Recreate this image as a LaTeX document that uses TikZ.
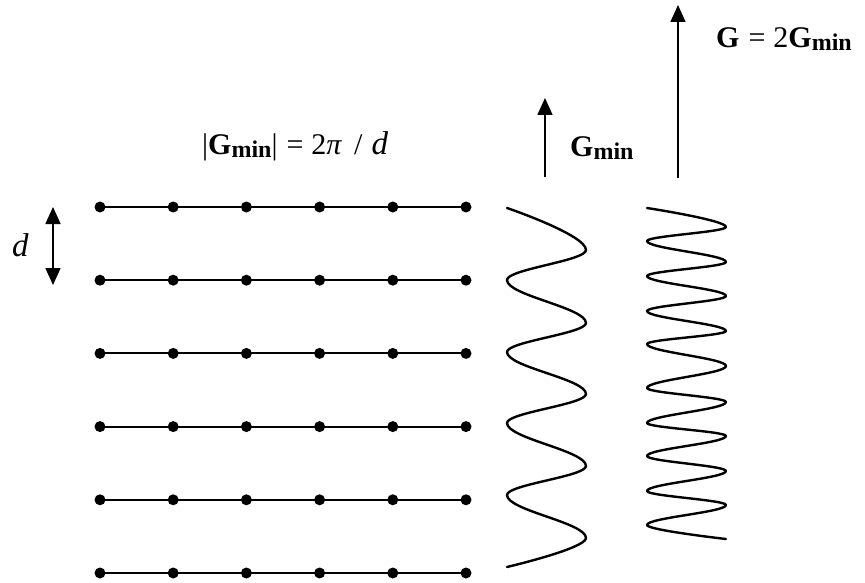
\documentclass[tikz,border=0pt]{standalone}
\usepackage{fontspec}
\setmainfont{Liberation Serif}
\usetikzlibrary{arrows.meta}

% bold G with the lowered "min" subscript
\newcommand{\Gmin}{\textbf{G}\raisebox{-3pt}{\fontsize{24}{24}\selectfont\textbf{min}}}
% one half-wave of a vertical wave: from one turning point (x1,y1) to the next (x2,y2)
\newcommand{\halfwave}[4]{.. controls (#1,{#2+0.36*(#4-#2)}) and (#3,{#4-0.36*(#4-#2)}) .. (#3,#4)}

\begin{document}
\begin{tikzpicture}[x=1pt,y=-1pt,
  dot/.style={circle,fill=black,inner sep=0pt,minimum size=11pt},
  rod/.style={line width=2pt},
  wave/.style={line width=2.4pt,line join=round,line cap=round},
  vec/.style={line width=1.6pt,-{Triangle[length=17pt,width=15pt]}},
  dvec/.style={line width=1.6pt,{Triangle[length=17pt,width=15pt]}-{Triangle[length=17pt,width=15pt]}},
  lbl/.style={inner sep=0pt,font=\fontsize{30}{30}\selectfont}]
\useasboundingbox (0,0) rectangle (865,583);

% lattice planes: rows of atoms joined by lines
\foreach \i in {0,...,5}{
  \foreach \j in {0,...,5}{
    \node[dot] (p\i\j) at ({100+73.2*\j},{207+73.2*\i}) {};
  }
  \draw[rod] (p\i0.center) -- (p\i5.center);
}

% plane spacing d
\coordinate (dtop) at (53,207);
\coordinate (dbot) at (53,285);
\draw[dvec] (dtop) -- (dbot);
\node[lbl,anchor=base west,font=\fontsize{33}{33}\selectfont] (dlbl) at (12,256) {\textit{d}};

% wave with the period d
\draw[wave] (507,208) .. controls (507,208) and (586,{250-0.36*42}) .. (586,250)
  \halfwave{586}{250}{507}{280} \halfwave{507}{280}{586}{323}
  \halfwave{586}{323}{507}{352} \halfwave{507}{352}{586}{394}
  \halfwave{586}{394}{507}{423} \halfwave{507}{423}{586}{466}
  \halfwave{586}{466}{507}{495} \halfwave{507}{495}{586}{538}
  .. controls (586,{538+0.36*29}) and (507,567) .. (507,567);

% wave with the period d/2
\draw[wave] (647,208) .. controls (647,208) and (726,{227-0.36*19}) .. (726,227)
  \halfwave{726}{227}{647}{241} \halfwave{647}{241}{726}{262}
  \halfwave{726}{262}{647}{276} \halfwave{647}{276}{726}{296}
  \halfwave{726}{296}{647}{311} \halfwave{647}{311}{726}{331}
  \halfwave{726}{331}{647}{344} \halfwave{647}{344}{726}{366}
  \halfwave{726}{366}{647}{388} \halfwave{647}{388}{726}{402}
  \halfwave{726}{402}{647}{423} \halfwave{647}{423}{726}{436}
  \halfwave{726}{436}{647}{456} \halfwave{647}{456}{726}{471}
  \halfwave{726}{471}{647}{491} \halfwave{647}{491}{726}{505}
  \halfwave{726}{505}{647}{525}
  .. controls (647,{525+0.36*14}) and (726,539) .. (726,539);

% reciprocal lattice vectors
\coordinate (gtail) at (545,177);
\coordinate (gtip) at (545,98);
\draw[vec] (gtail) -- (gtip);
\coordinate (Gtail) at (678,178);
\coordinate (Gtip) at (678,5);
\draw[vec] (Gtail) -- (Gtip);

% labels
\node[lbl,anchor=base west] (formula) at (202,155)
  {|\Gmin|\hspace{9pt}=\hspace{8pt}2\textit{π}\hspace{12pt}/\hspace{9pt}{\fontsize{33}{33}\selectfont\textit{d}}};
\node[lbl,anchor=base west] (gminlbl) at (570,157) {\Gmin};
\node[lbl,anchor=base west] (g2lbl) at (716,48) {\textbf{G}\hspace{9pt}=\hspace{8pt}2\Gmin};
\end{tikzpicture}
\end{document}
